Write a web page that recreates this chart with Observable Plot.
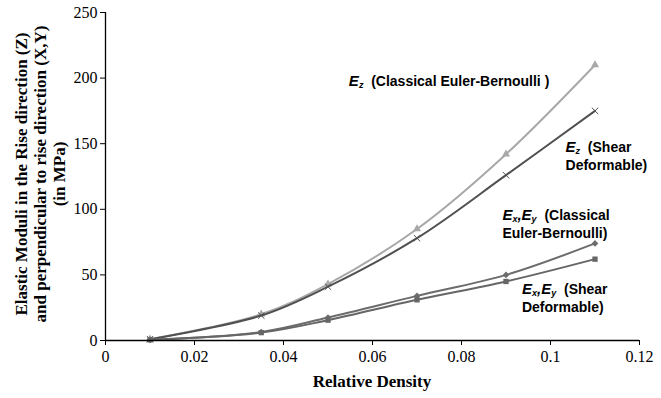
<!DOCTYPE html>
<html>
<head>
<meta charset="utf-8">
<script src="https://cdn.jsdelivr.net/npm/d3@7"></script>
<script src="https://cdn.jsdelivr.net/npm/@observablehq/plot@0.6"></script>
<style>
  html, body { margin: 0; padding: 0; background: #fff; }
  #chart svg { display: block; }
</style>
</head>
<body>
<div id="chart"></div>
<script>
// Relative density (x) values
const relativeDensity = [0.01, 0.035, 0.05, 0.07, 0.09, 0.11];
// Elastic moduli series (MPa)
const ezClassical = [1, 20, 43, 85, 142, 210];
const ezShear = [1, 19, 41, 78, 126, 175];
const exClassical = [0.5, 6.5, 17.5, 34, 50, 74];
const exShear = [0.5, 6, 15.5, 31, 45, 62];
// Tick values
const xTicks = [0, 0.02, 0.04, 0.06, 0.08, 0.1, 0.12];
const yTicks = [0, 50, 100, 150, 200, 250];
// Texts
const xLabel = "Relative Density";
const yLabelLines = [
  "Elastic Moduli in the Rise direction (Z)",
  "and perpendicular to rise direction (X,Y)",
  "(in MPa)"
];

const seriesDefs = [
  {key: "ezC", values: ezClassical, color: "#a8a8a8", symbol: "triangle"},
  {key: "ezS", values: ezShear, color: "#505050", symbol: "times"},
  {key: "exC", values: exClassical, color: "#6c6c6c", symbol: "diamond2"},
  {key: "exS", values: exShear, color: "#666666", symbol: "square"}
];
const rows = seriesDefs.flatMap(s => relativeDensity.map((x, i) => ({series: s.key, x, y: s.values[i]})));

const marks = [];
for (const s of seriesDefs) {
  const d = rows.filter(r => r.series === s.key);
  marks.push(Plot.line(d, {x: "x", y: "y", stroke: s.color, strokeWidth: 2, curve: "catmull-rom"}));
  if (s.symbol === "times") {
    marks.push(Plot.dot(d, {x: "x", y: "y", symbol: "times", r: 3, stroke: s.color, strokeWidth: 1}));
  } else {
    marks.push(Plot.dot(d, {x: "x", y: "y", symbol: s.symbol, r: 3, fill: s.color, stroke: "none"}));
  }
}

const chart = Plot.plot({
  width: 661,
  height: 398,
  marginLeft: 105,
  marginRight: 22,
  marginTop: 12,
  marginBottom: 58,
  style: {background: "#fff", fontFamily: "'Liberation Serif', serif"},
  x: {domain: [0, 0.12]},
  y: {domain: [0, 250]},
  marks: [
    Plot.axisX({ticks: xTicks, tickFormat: d => String(+d.toFixed(2)), tickSize: 5, tickPadding: 5, fontSize: 16, label: null, stroke: "#000", color: "#000"}),
    Plot.axisY({ticks: yTicks, tickSize: 5, tickPadding: 3, fontSize: 16, label: null, stroke: "#000", color: "#000"}),
    ...marks,
    Plot.ruleX([0], {stroke: "#000", strokeWidth: 1.3}),
    Plot.ruleY([0], {stroke: "#000", strokeWidth: 1.3})
  ]
});

document.getElementById("chart").appendChild(chart);

const svg = d3.select(chart);
const sx = chart.scale("x"), sy = chart.scale("y");
const x0 = sx.apply(0), x1 = sx.apply(0.12);
const yBottom = sy.apply(0), yTop = sy.apply(250);

// x axis title
svg.append("text")
  .attr("x", (x0 + x1) / 2)
  .attr("y", yBottom + 41)
  .attr("dy", "0.35em")
  .style("text-anchor", "middle")
  .style("font-family", "'Liberation Serif', serif")
  .style("font-weight", "bold")
  .style("font-size", "17px")
  .attr("fill", "#000")
  .text(xLabel);

// y axis title (three lines)
const yc = (yBottom + yTop) / 2 - 2;
const lineX = [21, 40, 59];
yLabelLines.forEach((t, i) => {
  svg.append("text")
    .attr("transform", `translate(${lineX[i]},${yc}) rotate(-90)`)
    .attr("dy", "0.35em")
    .style("text-anchor", "middle")
    .style("font-family", "'Liberation Serif', serif")
    .style("font-weight", "bold")
    .style("font-size", "17px")
    .attr("fill", "#000")
    .text(t);
});

// Annotations with subscripts
function annotate(xv, yv, firstParts, restLines) {
  const g = svg.append("g")
    .style("font-family", "'Liberation Sans', Arial, sans-serif")
    .style("font-weight", "bold")
    .style("font-size", "14px")
    .style("text-anchor", "start")
    .attr("fill", "#000");
  const t = g.append("text")
    .attr("x", sx.apply(xv))
    .attr("y", sy.apply(yv))
    .attr("dy", "0.35em");
  let shifted = false;
  for (const p of firstParts) {
    const ts = t.append("tspan").text(p.text);
    if (p.italic) ts.style("font-style", "italic");
    if (p.big) ts.style("font-size", "15px");
    if (p.sub) {
      ts.style("font-size", "9px").attr("dy", 2);
      shifted = true;
    } else if (shifted) {
      ts.attr("dy", -2);
      shifted = false;
    }
  }
  restLines.forEach((l, i) => {
    g.append("text")
      .attr("x", sx.apply(xv))
      .attr("y", sy.apply(yv) + 18 * (i + 1))
      .attr("dy", "0.35em")
      .text(l);
  });
}

annotate(0.0548, 197, [
  {text: "E", italic: true, big: true}, {text: "z", italic: true, sub: true}, {text: "  (Classical Euler-Bernoulli )"}
], []);
annotate(0.1035, 147, [
  {text: "E", italic: true, big: true}, {text: "z", italic: true, sub: true}, {text: "  (Shear"}
], ["Deformable)"]);
annotate(0.0893, 95.5, [
  {text: "E", italic: true, big: true}, {text: "x", italic: true, sub: true}, {text: ",E", italic: true, big: true}, {text: "y", italic: true, sub: true}, {text: "  (Classical"}
], ["Euler-Bernoulli)"]);
annotate(0.0937, 38.5, [
  {text: "E", italic: true, big: true}, {text: "x", italic: true, sub: true}, {text: ",E", italic: true, big: true}, {text: "y", italic: true, sub: true}, {text: "  (Shear"}
], ["Deformable)"]);
</script>
</body>
</html>
